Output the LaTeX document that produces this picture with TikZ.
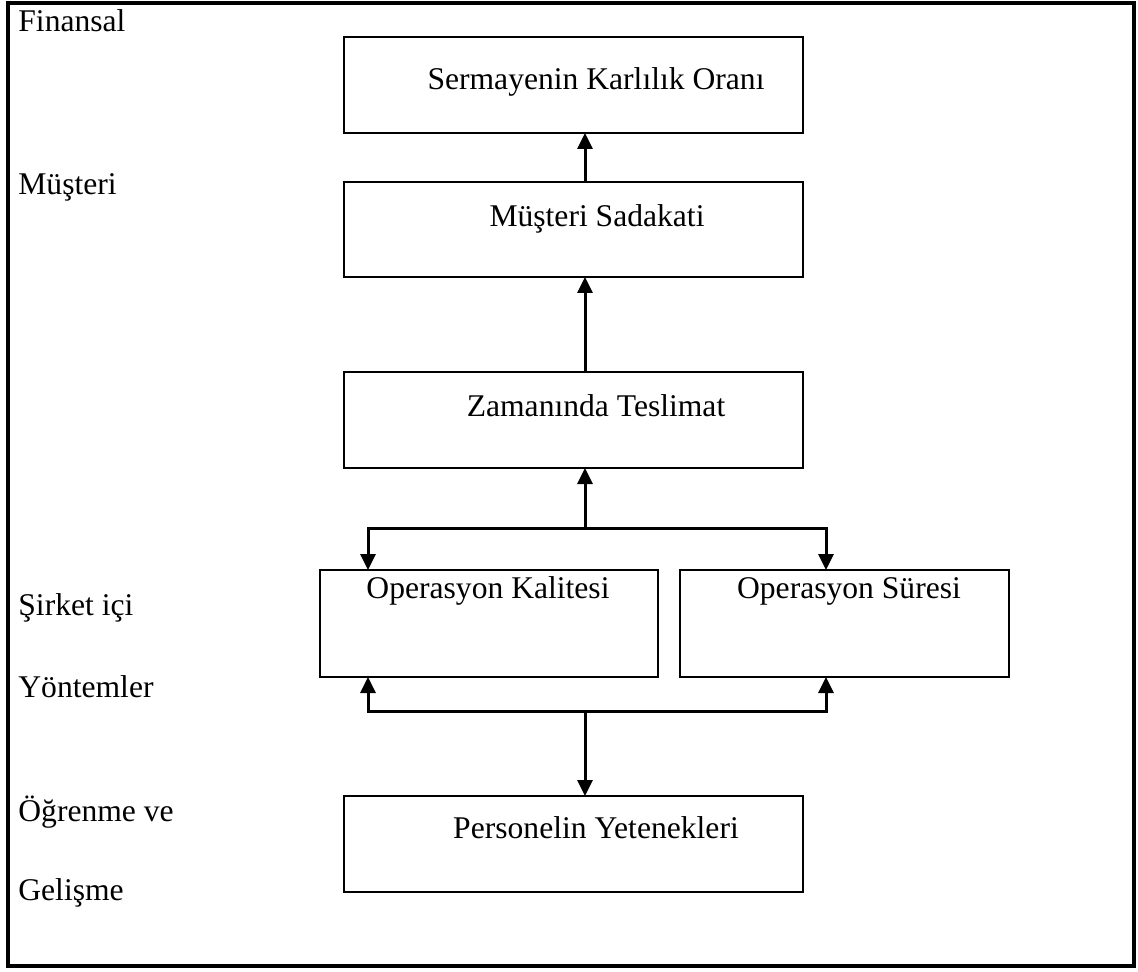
\documentclass[tikz,border=0pt]{standalone}
\usepackage{fontspec}
\setmainfont{Liberation Serif}
\usetikzlibrary{arrows.meta}

\begin{document}
\begin{tikzpicture}[x=0.5pt,y=-0.5pt,
  font=\fontsize{15.8pt}{19pt}\selectfont,
  framebox/.style={draw,line width=1.6pt},
  stagebox/.style={draw,line width=1pt,inner sep=0pt,outer sep=0pt},
  boxtext/.style={anchor=base,inner sep=0pt},
  sidelabel/.style={anchor=base west,inner sep=0pt},
  link/.style={line width=1.5pt,-{Triangle[width=7.5pt,length=8pt]}},
  duallink/.style={line width=1.5pt,{Triangle[width=7.5pt,length=8pt]}-{Triangle[width=7.5pt,length=8pt]}}]

  \useasboundingbox (0,0) rectangle (1138,972);
  \draw[framebox] (8,3) rectangle (1134,966);

  % perspective labels on the left
  \node[sidelabel] (lfin) at (18,32) {Finansal};
  \node[sidelabel] (lmus) at (18,195) {Müşteri};
  \node[sidelabel] (lsir) at (18,615) {Şirket içi};
  \node[sidelabel] (lyon) at (18,697) {Yöntemler};
  \node[sidelabel] (logr) at (18,821) {Öğrenme ve};
  \node[sidelabel] (lgel) at (18,900) {Gelişme};

  % stage boxes
  \node[stagebox,minimum width=229.5pt,minimum height=48pt] (b1) at (573.5,85) {};
  \node[stagebox,minimum width=229.5pt,minimum height=47.5pt] (b2) at (573.5,229.5) {};
  \node[stagebox,minimum width=229.5pt,minimum height=48pt] (b3) at (573.5,420) {};
  \node[stagebox,minimum width=169pt,minimum height=53.5pt] (b4) at (489,623.5) {};
  \node[stagebox,minimum width=164.5pt,minimum height=53.5pt] (b5) at (844.5,623.5) {};
  \node[stagebox,minimum width=229.5pt,minimum height=48pt] (b6) at (573.5,844) {};

  % box captions
  \node[boxtext] (t1) at (596,90) {Sermayenin Karlılık Oranı};
  \node[boxtext] (t2) at (597,227) {Müşteri Sadakati};
  \node[boxtext] (t3) at (596,416) {Zamanında Teslimat};
  \node[boxtext] (t4) at (488,598) {Operasyon Kalitesi};
  \node[boxtext] (t5) at (849,598) {Operasyon Süresi};
  \node[boxtext] (t6) at (596,838) {Personelin Yetenekleri};

  % connector guide points
  \coordinate (cx) at (585,0);
  \coordinate (xl) at (368,0);
  \coordinate (xr) at (826,0);
  \coordinate (split) at (585,528);
  \coordinate (sl) at (368,528);
  \coordinate (sr) at (826,528);
  \coordinate (join) at (585,711);
  \coordinate (jl) at (368,711);
  \coordinate (jr) at (826,711);

  % upward chain
  \draw[link] (b2.north -| cx) -- (b1.south -| cx);
  \draw[link] (b3.north -| cx) -- (b2.south -| cx);
  \draw[link] (split) -- (b3.south -| cx);
  \draw[link] (split) -- (sl) -- (b4.north -| xl);
  \draw[link] (split) -- (sr) -- (b5.north -| xr);

  % lower branch
  \draw[duallink] (b4.south -| xl) -- (jl) -- (jr) -- (b5.south -| xr);
  \draw[link] (join) -- (b6.north -| cx);
\end{tikzpicture}
\end{document}
